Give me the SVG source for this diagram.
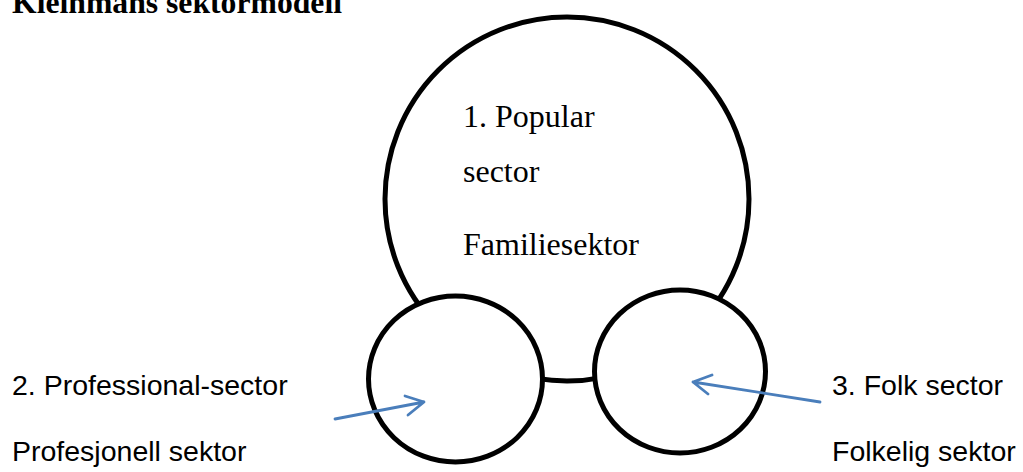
<svg xmlns="http://www.w3.org/2000/svg" width="1023" height="472" viewBox="0 0 1023 472">
<style>
.ring{fill:#fff;stroke:#000;stroke-width:5}
.serif{font-family:"Liberation Serif","Times New Roman",serif;font-size:32px;fill:#000}
.sans{font-family:"Liberation Sans",Arial,sans-serif;font-size:28.5px;fill:#000}
.arrow{fill:none;stroke:#4A7EBB;stroke-width:2.8;stroke-linecap:round;stroke-linejoin:round}
</style>
<rect width="1023" height="472" fill="#fff"/>
<text x="12" y="12.5" font-family="Liberation Serif,Times New Roman,serif" font-weight="bold" font-size="32" fill="#000" textLength="330" lengthAdjust="spacingAndGlyphs">Kleinmans sektormodell</text>
<g id="popular">
<circle class="ring" cx="567" cy="199" r="182"/>
<text class="serif" x="463" y="127">1. Popular</text>
<text class="serif" x="463" y="182">sector</text>
<text class="serif" x="463" y="255">Familiesektor</text>
</g>
<g id="professional">
<ellipse class="ring" cx="455.5" cy="379" rx="87" ry="83"/>
</g>
<g id="folk">
<ellipse class="ring" cx="680" cy="371.5" rx="85.5" ry="81.5"/>
</g>
<g id="connectors">
<path class="arrow" d="M335 419 L424 402 M405 396 L424 402 L408 415"/>
<path class="arrow" d="M820 402 L693 382 M712 375 L693 382 L708 394"/>
</g>
<text class="sans" x="12" y="395">2. Professional-sector</text>
<text class="sans" x="12" y="461">Profesjonell sektor</text>
<text class="sans" x="832" y="395">3. Folk sector</text>
<text class="sans" x="832" y="461">Folkelig sektor</text>
</svg>
